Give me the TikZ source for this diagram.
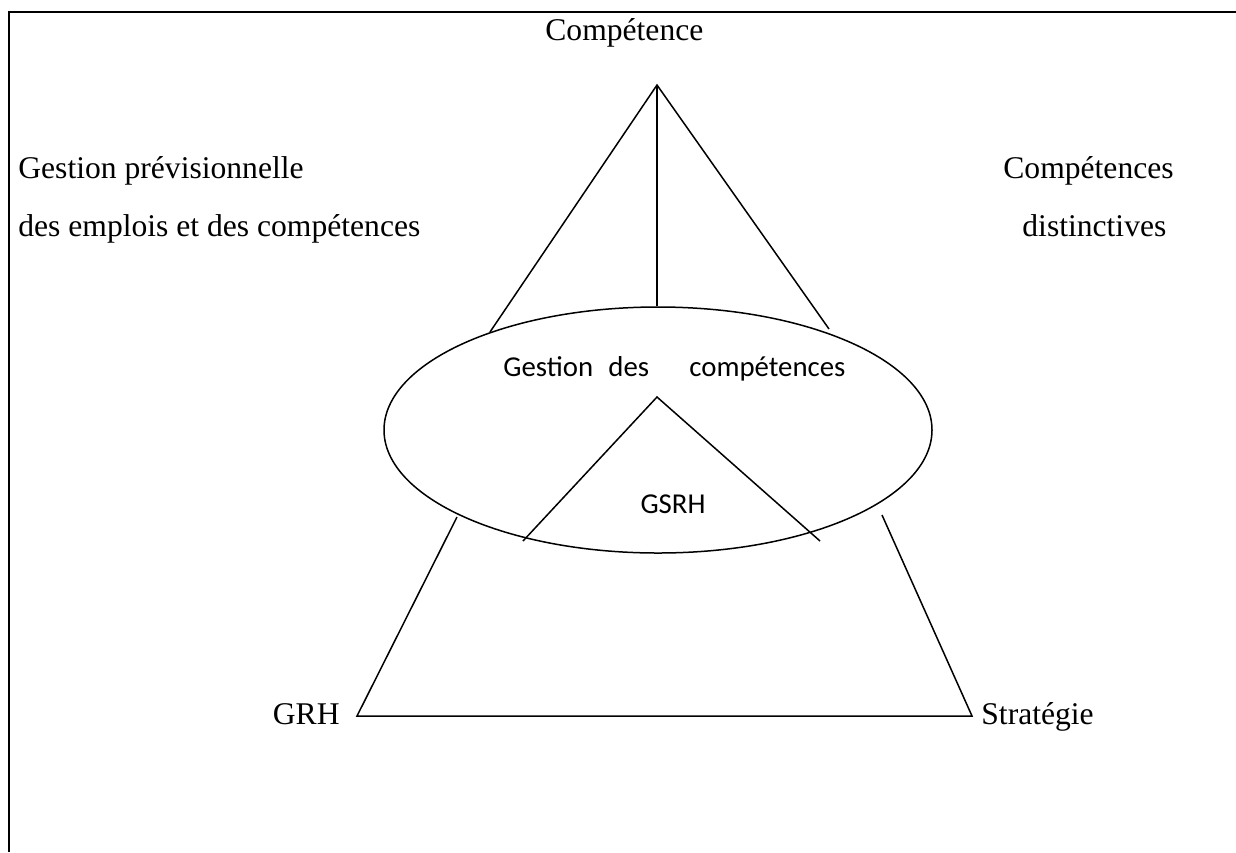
\documentclass[tikz,border=0pt]{standalone}
\usepackage{fontspec}
\setmainfont{Liberation Serif}
\newfontfamily\calibrifont{Carlito}
\usetikzlibrary{shapes.geometric}
\begin{document}
\begin{tikzpicture}[x=0.5pt,y=-0.5pt,
  frame/.style={line width=1pt},
  edge/.style={line width=0.75pt},
  serifl/.style={font=\fontsize{15.8pt}{19pt}\selectfont, inner sep=0pt},
  sansl/.style={font=\calibrifont\fontsize{14.4pt}{17pt}\selectfont, inner sep=0pt}]
\useasboundingbox (0,0) rectangle (1236,852);
% page frame (top and left sides)
\draw[frame] (1236,12) -- (9,12) -- (9,852);

% central ellipse
\node[ellipse, draw, edge, minimum width=274pt, minimum height=123pt, inner sep=0pt] (gc) at (658,430) {};

% upper triangle
\coordinate (apex) at (657,85);
\coordinate (ul) at (490,332);
\coordinate (ur) at (829,329);
\coordinate (um) at (657,306);
\draw[edge] (ul) -- (apex) -- (ur);
\draw[edge] (apex) -- (um);

% inner triangle
\coordinate (iapex) at (657,397);
\coordinate (il) at (523,541);
\coordinate (ir) at (820,541);
\draw[edge] (il) -- (iapex) -- (ir);

% lower trapezoid
\coordinate (tl) at (457,517);
\coordinate (tr) at (882,515);
\coordinate (grh) at (357,716);
\coordinate (strat) at (972,716);
\draw[edge] (tl) -- (grh) -- (strat) -- (tr);

% labels
\node[serifl, anchor=base west] (lcomp) at (545,40) {Compétence};
\node[serifl, anchor=base west] (lgp1) at (18,178) {Gestion prévisionnelle};
\node[serifl, anchor=base west] (lgp2) at (18,236) {des emplois et des compétences};
\node[serifl, anchor=base west] (lcd1) at (1003,178) {Compétences};
\node[serifl, anchor=base west] (lcd2) at (1022,236) {distinctives};
\node[serifl, anchor=base east] (lgrh) at (340,724) {GRH};
\node[serifl, anchor=base west] (lstr) at (981,724) {Stratégie};
\node[sansl, anchor=base west] (lgc1) at (503,376) {Gestion};
\node[sansl, anchor=base west] (lgc2) at (608,376) {des};
\node[sansl, anchor=base west] (lgc3) at (689,376) {compétences};
\node[sansl, anchor=base] (lgsrh) at (673,513) {GSRH};
\end{tikzpicture}
\end{document}
